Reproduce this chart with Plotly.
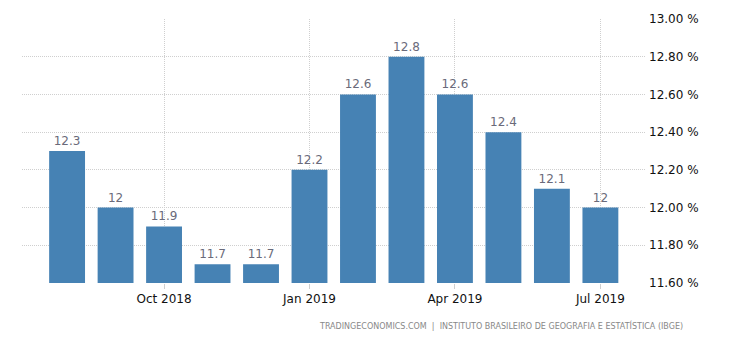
import plotly.graph_objects as go

months = ["Aug 2018", "Sep 2018", "Oct 2018", "Nov 2018", "Dec 2018", "Jan 2019",
          "Feb 2019", "Mar 2019", "Apr 2019", "May 2019", "Jun 2019", "Jul 2019"]
rates = [12.3, 12.0, 11.9, 11.7, 11.7, 12.2, 12.6, 12.8, 12.6, 12.4, 12.1, 12.0]
rate_labels = ["12.3", "12", "11.9", "11.7", "11.7", "12.2", "12.6", "12.8", "12.6", "12.4", "12.1", "12"]
x_ticks = ["Oct 2018", "Jan 2019", "Apr 2019", "Jul 2019"]
y_ticks = [11.6, 11.8, 12.0, 12.2, 12.4, 12.6, 12.8, 13.0]
source = "TRADINGECONOMICS.COM  |  INSTITUTO BRASILEIRO DE GEOGRAFIA E ESTATÍSTICA (IBGE)"

font = "DejaVu Sans, Verdana, sans-serif"
grid = "#cfcfcf"

fig = go.Figure(go.Bar(
    x=list(range(len(months))),
    y=[r - 11.6 for r in rates],
    base=11.6,
    width=0.74,
    marker=dict(color="#4682b4", line=dict(width=0)),
    text=rate_labels,
    textposition="outside",
    textfont=dict(family=font, size=12, color="#6a6a7a"),
    cliponaxis=False,
))

tick_idx = [months.index(m) for m in x_ticks]

fig.update_layout(
    width=730, height=340,
    margin=dict(l=22, r=85, t=19, b=57),
    paper_bgcolor="white", plot_bgcolor="white",
    showlegend=False,
    xaxis=dict(
        range=[-0.93, 11.92],
        tickmode="array", tickvals=tick_idx, ticktext=x_ticks,
        showgrid=True, gridcolor=grid, griddash="1px,1px", gridwidth=1,
        ticks="outside", ticklen=5, tickcolor=grid,
        tickfont=dict(family=font, size=12, color="#111111"),
        showline=False, zeroline=False,
    ),
    yaxis=dict(
        side="right",
        range=[11.6, 13.0],
        tickmode="array", tickvals=y_ticks,
        ticktext=[f"{v:.2f} %" for v in y_ticks],
        showgrid=True, gridcolor=grid, griddash="1px,1px", gridwidth=1,
        ticks="", ticklabelstandoff=3,
        tickfont=dict(family=font, size=12, color="#111111"),
        showline=False, zeroline=False,
    ),
    annotations=[dict(
        text=source, xref="paper", yref="paper",
        x=1.0 + 40 / 623, y=-42 / 264, xanchor="right", yanchor="middle",
        showarrow=False,
        font=dict(family=font, size=8, color="#888888"),
    )],
)

fig.write_html("out.html")
